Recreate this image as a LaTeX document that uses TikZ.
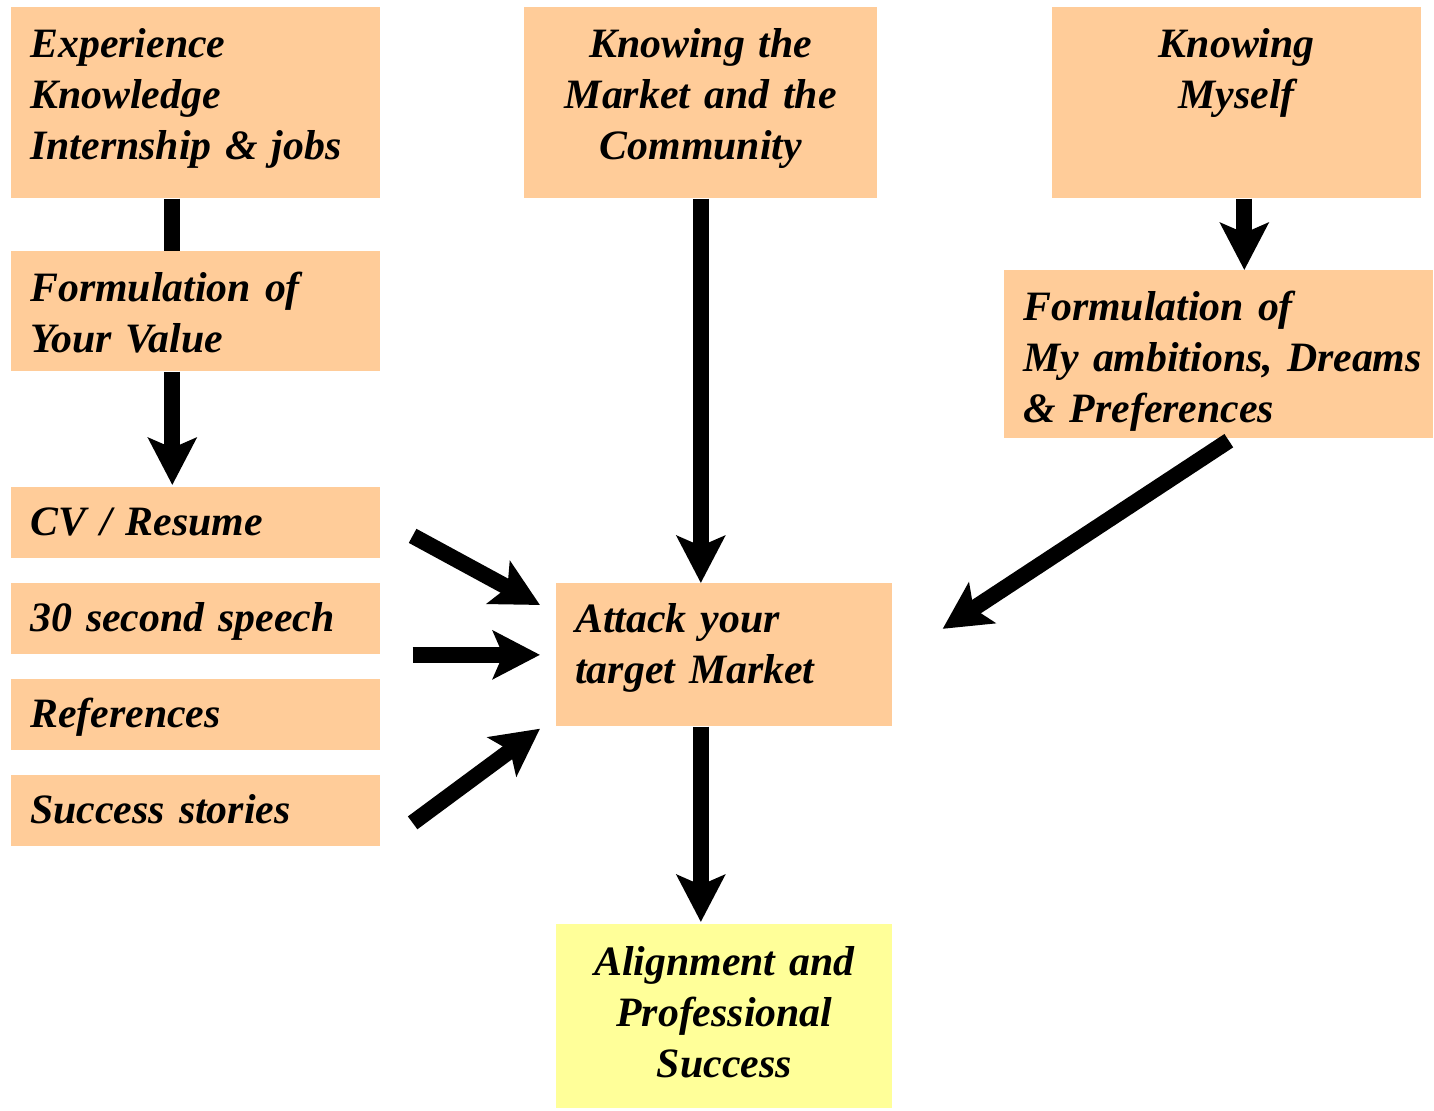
\documentclass[tikz,border=0pt]{standalone}
\usepackage{fontspec}
\setmainfont{Liberation Serif}
\usetikzlibrary{arrows.meta}
\usetikzlibrary{calc}
\definecolor{peach}{HTML}{FFCC99}
\definecolor{paleyellow}{HTML}{FFFF99}
\tikzstyle{block} = [rectangle, anchor=north west, fill=peach, inner xsep=0.38cm, inner ysep=0pt, text height=1cm, font=\fontsize{23.8}{29}\selectfont\bfseries\itshape]
\tikzstyle{wide} = [minimum width=7.38cm, text width=6.62cm]
\tikzstyle{arrow} = [-{Stealth[length=0.94cm,width=0.96cm,inset=0.2cm]}, line width=0.32cm]

\begin{document}
\begin{tikzpicture}[x=0.02cm, y=-0.02cm]

  %\draw[help lines] (0,0) grid (1434,1110);
  \useasboundingbox (0,0) rectangle (1434,1110);

  % top row
  \node (exp)  [block, wide, align=left, text depth=2.82cm] at (11,7) {Experience\\Knowledge\\Internship \& jobs};
  \node (mkt)  [block, align=center, minimum width=7.06cm, text width=6.30cm, text depth=2.82cm] at (524,7) {Knowing the\\Market and the\\Community};
  \node (self) [block, wide, align=center, text depth=2.82cm] at (1052,7) {Knowing\\Myself};

  % second row
  \node (val) [block, wide, align=left, text depth=1.4cm] at (11,251) {Formulation of\\Your Value};
  \node (amb) [block, align=left, minimum width=8.58cm, text width=7.82cm, text depth=2.36cm] at (1004,270) {Formulation of\\\mbox{My ambitions, Dreams}\\\& Preferences};

  % tools column
  \node (cv)      [block, wide, align=left, text height=0.96cm, text depth=0.46cm] at (11,487) {CV / Resume};
  \node (speech)  [block, wide, align=left, text height=0.96cm, text depth=0.46cm] at (11,583) {30 second speech};
  \node (refs)    [block, wide, align=left, text height=0.96cm, text depth=0.46cm] at (11,679) {References};
  \node (stories) [block, wide, align=left, text height=0.96cm, text depth=0.46cm] at (11,775) {Success stories};

  \node (att)   [block, align=left, minimum width=6.72cm, text width=5.96cm, text height=0.98cm, text depth=1.88cm] at (556,583) {Attack your\\target Market};
  \node (align) [block, fill=paleyellow, align=center, minimum width=6.72cm, text width=5.96cm, text height=1.02cm, text depth=2.66cm] at (556,924) {Alignment and\\Professional\\Success};

  % left branch
  \draw [line width=0.32cm] ($(exp.south)+(-23.5,0)$) -- ($(val.north)+(-23.5,0)$);
  \draw [arrow] ($(val.south)+(-23.5,0)$) -- ($(cv.north)+(-23.5,-2)$);

  % middle branch
  \draw [arrow] (mkt.south) -- (mkt.south |- att.north);
  \draw [arrow] (att.south -| mkt.south) -- ($(align.north -| mkt.south)+(0,-2)$);

  % right branch
  \draw [arrow] ($(self.south)+(7.5,0)$) -- ($(self.south |- amb.north)+(7.5,0)$);
  \draw [arrow] ($(amb.south)+(10,2)$) -- ($(att.east)+(50,-26)$);

  % tools into target
  \draw [arrow] ($(cv.east)+(32,13)$) -- ($(att.north west)+(-16,22)$);
  \draw [arrow] ($(att.west -| speech.east)+(32,0)$) -- ($(att.west)+(-16,0)$);
  \draw [arrow] ($(stories.east)+(32,12)$) -- ($(att.south west)+(-16,2)$);

\end{tikzpicture}
\end{document}
